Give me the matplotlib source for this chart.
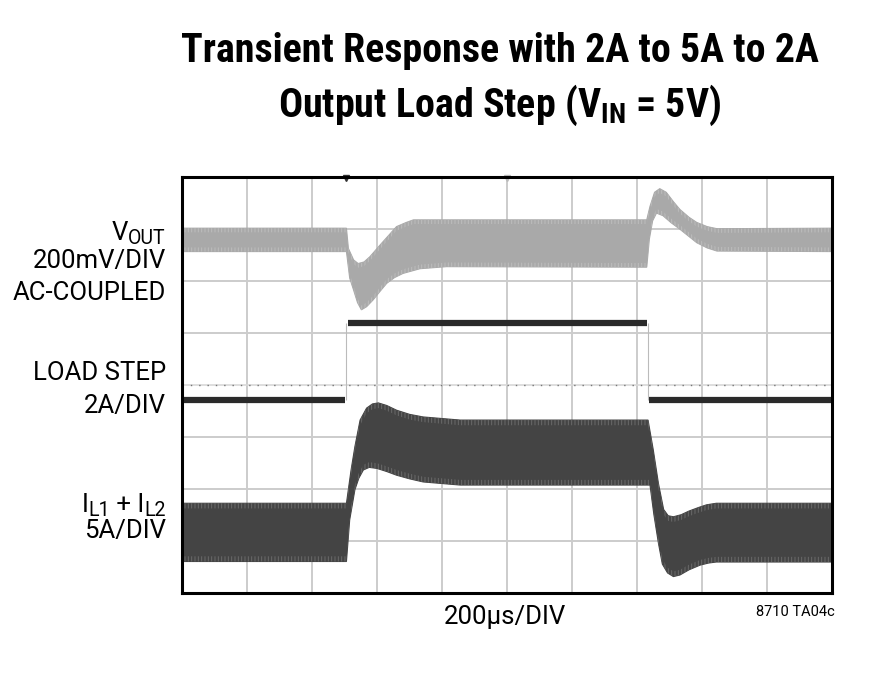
import numpy as np
import matplotlib
matplotlib.use('Agg')
from matplotlib import pyplot as plt

# scope screen: x in divisions (200us/DIV), y in divisions from bottom of screen
N_XDIV = 10
N_YDIV = 8

# VOUT envelope (upper / lower edge of the ripple band)
vout_up_t = [0.0, 2.53, 2.56, 2.64, 2.71, 2.80, 2.89, 3.05, 3.20, 3.30, 3.45, 3.56, 4.0,
             7.15, 7.20, 7.27, 7.35, 7.45, 7.56, 7.66, 7.80, 7.92, 8.08, 8.23, 10.0]
vout_up_v = [7.01, 7.01, 6.62, 6.40, 6.33, 6.36, 6.46, 6.69, 6.90, 7.04, 7.12, 7.17, 7.17,
             7.17, 7.43, 7.70, 7.77, 7.70, 7.52, 7.37, 7.22, 7.12, 7.04, 7.00, 7.01]
vout_lo_t = [0.0, 2.53, 2.58, 2.64, 2.70, 2.76, 2.84, 2.94, 3.05, 3.15, 3.27, 3.40, 3.66, 4.07,
             7.15, 7.19, 7.24, 7.30, 7.40, 7.52, 7.66, 7.80, 7.92, 8.08, 8.23, 10.0]
vout_lo_v = [6.56, 6.56, 6.05, 5.82, 5.58, 5.44, 5.50, 5.63, 5.80, 5.95, 6.06, 6.14, 6.23, 6.27,
             6.26, 6.80, 7.15, 7.30, 7.25, 7.12, 6.99, 6.85, 6.73, 6.63, 6.57, 6.56]

# load step, 2A -> 5A -> 2A
load_edges = [0.0, 2.53, 7.17, 10.0]
load_level = [3.70, 5.18, 3.70]

# IL1 + IL2 envelope
il_up_t = [0.0, 2.53, 2.60, 2.66, 2.74, 2.84, 2.93, 3.02, 3.15, 3.30, 3.50, 3.71, 4.28,
           7.17, 7.25, 7.33, 7.41, 7.48, 7.56, 7.68, 7.80, 7.95, 8.07, 8.22, 10.0]
il_up_v = [1.72, 1.72, 2.35, 2.81, 3.32, 3.55, 3.63, 3.65, 3.60, 3.51, 3.43, 3.38, 3.32,
           3.32, 2.75, 2.10, 1.60, 1.48, 1.46, 1.50, 1.57, 1.64, 1.69, 1.72, 1.72]
il_lo_t = [0.0, 2.53, 2.58, 2.66, 2.72, 2.79, 2.88, 3.00, 3.15, 3.30, 3.50, 3.71, 4.28,
           7.20, 7.26, 7.33, 7.39, 7.47, 7.56, 7.66, 7.80, 7.97, 8.10, 8.22, 10.0]
il_lo_v = [0.60, 0.60, 1.40, 1.98, 2.20, 2.36, 2.41, 2.39, 2.33, 2.26, 2.19, 2.13, 2.07,
           2.07, 1.50, 0.95, 0.55, 0.38, 0.31, 0.34, 0.44, 0.53, 0.57, 0.59, 0.59]

TITLE_1 = 'Transient Response with 2A to 5A to 2A'
TITLE_2 = r'Output Load Step (V$_{\mathbf{IN}}$ = 5V)'

# channel labels: list of (piece, is_subscript), baseline in px from top
labels = [
    ([('V', False), ('OUT', True)], 240),
    ([('200mV/DIV', False)], 268),
    ([('AC-COUPLED', False)], 300),
    ([('LOAD STEP', False)], 380),
    ([('2A/DIV', False)], 413.3),
    ([('I', False), ('L1', True), (' + I', False), ('L2', True)], 512),
    ([('5A/DIV', False)], 538.3),
]

plt.rcParams['font.family'] = ['Roboto Condensed', 'DejaVu Sans']
plt.rcParams['mathtext.fontset'] = 'custom'
plt.rcParams['mathtext.rm'] = 'Roboto Condensed'
plt.rcParams['mathtext.bf'] = 'Roboto Condensed:bold'
plt.rcParams['hatch.linewidth'] = 0.7

W, H = 887, 677
LAB_FONT = ['Roboto', 'DejaVu Sans']
LAB_SIZE = 18.5


def band(ax, up_t, up_v, lo_t, lo_v, color, tick_color, depth):
    # ripple band: solid fill plus a ticked strip along both edges
    ax.fill(np.r_[up_t, lo_t[::-1]], np.r_[up_v, lo_v[::-1]],
            fc=color, ec=color, lw=0.8, zorder=3)
    up_v = np.asarray(up_v)
    lo_v = np.asarray(lo_v)
    for t, v, sgn in ((up_t, up_v, -1), (lo_t, lo_v, 1)):
        ax.fill(np.r_[t, t[::-1]], np.r_[v, (v + sgn * depth)[::-1]],
                fc='none', ec=tick_color, lw=0, hatch='|||||', zorder=3.5)


fig = plt.figure(figsize=(W / 100, H / 100), dpi=100)
ax = fig.add_axes([182 / W, 1 - 592.7 / H, 650 / W, 416 / H])
ax.set_xlim(0, N_XDIV)
ax.set_ylim(0, N_YDIV)

# graticule
for i in range(1, N_XDIV):
    ax.axvline(i, color='#cccccc', lw=1.4, zorder=1)
for j in range(1, N_YDIV):
    if j == N_YDIV // 2:
        ax.axhline(j, color='#d8d8d8', lw=1.2, zorder=1)
        ax.axhline(j, color='#777777', lw=1.0, ls=(0, (1, 5)), zorder=1.5)
    else:
        ax.axhline(j, color='#cccccc', lw=1.4, zorder=1)

# traces
band(ax, vout_up_t, vout_up_v, vout_lo_t, vout_lo_v, '#a9a9a9', '#bdbdbd', 0.08)
band(ax, il_up_t, il_up_v, il_lo_t, il_lo_v, '#444444', '#6a6a6a', 0.10)

for k in range(len(load_level)):
    ax.hlines(load_level[k], load_edges[k] + (0.02 if k else 0), load_edges[k + 1] - 0.02,
              color='#2a2a2a', lw=4.5, zorder=4)
ax.vlines(load_edges[1:-1], min(load_level), max(load_level), color='#bbbbbb', lw=0.8, zorder=2)

# trigger / centre markers on top edge
ax.plot([load_edges[1]], [N_YDIV - 0.03], marker='v', ms=5, color='#333333', clip_on=False, zorder=6)
ax.plot([N_XDIV / 2], [N_YDIV - 0.03], marker='v', ms=5, color='#bbbbbb', clip_on=False, zorder=6)

ax.set_xticks([])
ax.set_yticks([])
for s in ax.spines.values():
    s.set_linewidth(2.2)
    s.set_color('black')
    s.set_zorder(10)

# titles
fig.text(500 / W, 1 - 61.7 / H, TITLE_1, ha='center', va='baseline',
         fontsize=28.8, fontweight='bold')
fig.text(500 / W, 1 - 116.7 / H, TITLE_2, ha='center', va='baseline',
         fontsize=28.8, fontweight='bold')

# channel labels, right aligned, built right to left so subscripts can be larger than mathtext's
renderer = fig.canvas.get_renderer()
right_px = 166
for pieces, yb in labels:
    x_px = right_px
    for txt, sub in reversed(pieces):
        size = LAB_SIZE * 0.76 if sub else LAB_SIZE
        y_px = yb + (4 if sub else 0)
        t = fig.text(x_px / W, 1 - y_px / H, txt, ha='right', va='baseline',
                     fontsize=size, family=LAB_FONT)
        x_px -= t.get_window_extent(renderer).width

fig.text(505 / W, 1 - 624.3 / H, '200\u00b5s/DIV', ha='center', va='baseline',
         fontsize=LAB_SIZE, family=LAB_FONT)
fig.text(835 / W, 1 - 615.7 / H, '8710 TA04c', ha='right', va='baseline',
         fontsize=10.5, family=LAB_FONT)

fig.savefig('out.png', dpi=100)
